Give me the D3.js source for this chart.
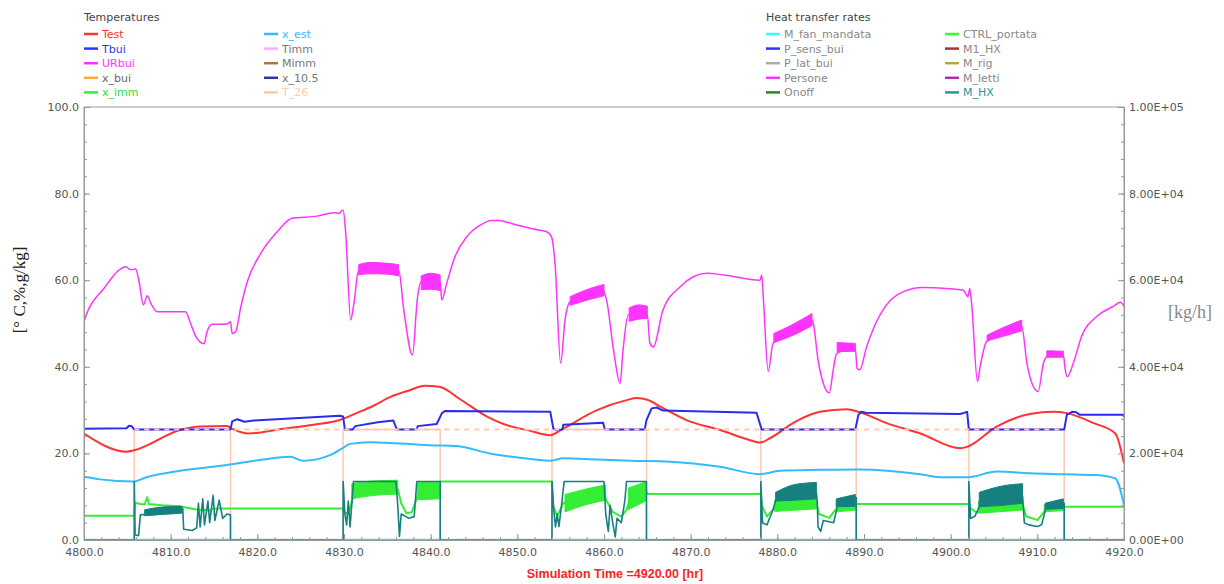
<!DOCTYPE html>
<html><head><meta charset="utf-8">
<script src="https://cdn.jsdelivr.net/npm/d3@7"></script>
<style>body{margin:0;background:#fff} text{font-family:"DejaVu Sans",sans-serif}</style>
</head><body><svg id="c" width="1224" height="584"></svg>
<script>
// ---------- data ----------
const xTicks=[4800,4810,4820,4830,4840,4850,4860,4870,4880,4890,4900,4910,4920];
const yTicks=[0,20,40,60,80,100];
const yRTicks=[0,20000,40000,60000,80000,100000];

const tempNames=["Test","Tbui","URbui","x_bui","x_imm","x_est","Timm","Mimm","x_10.5","T_26"];
const tempColors=["#ff3333","#3333ff","#ff33ff","#ffaa33","#33ee33","#33bbff","#ffaaff","#aa7744","#333399","#ffccaa"];
const tempTextColors=["#ff3333","#3333ff","#ff33ff","#666666","#33dd33","#33bbff","#777777","#777777","#777777","#ffccaa"];
const heatNames=["M_fan_mandata","P_sens_bui","P_lat_bui","Persone","Onoff","CTRL_portata","M1_HX","M_rig","M_letti","M_HX"];
const heatColors=["#33ffff","#3333ff","#aaaaaa","#ff33ff","#228822","#33ff33","#aa3333","#aaaa55","#aa33aa","#229999"];
const heatTextColors=["#888888","#888888","#888888","#888888","#888888","#888888","#888888","#888888","#888888","#229999"];

const Test=[[4800,24.6],[4804.9,20.4],[4805.9,20.8],[4811.1,25.4],[4813.4,26.2],[4816.5,26.3],[4817.0,25.8],[4819.0,24.6],[4822.6,25.6],[4826.5,26.6],[4829.5,27.7],[4831.45,29.3],[4833.4,31.0],[4835.3,33.0],[4837.6,34.6],[4839.3,35.6],[4841.0,35.4],[4843.4,32.5],[4846.5,28.5],[4848.4,26.8],[4851.5,25.2],[4853.8,24.2],[4855.0,25.4],[4859.2,30.0],[4862.6,32.3],[4863.8,32.8],[4865.0,32.4],[4866.5,30.8],[4869.5,27.7],[4873.4,25.4],[4876.8,23.1],[4878.0,22.5],[4879.15,23.5],[4881.8,27.0],[4884.9,29.6],[4888.0,30.2],[4889.35,29.6],[4892.6,27.0],[4896.5,24.6],[4901.1,21.2],[4902.0,21.6],[4905.3,26.2],[4909.15,29.1],[4911.85,29.6],[4913.4,29.3],[4916.5,27.0],[4919.0,24.6],[4920,17.7]];

const Tbui=[[4800,25.7],[4804.9,25.8],[4805.2,26.4],[4805.5,26.3],[4805.8,25.5],[4816.9,25.5],[4817.1,27.4],[4817.7,27.9],[4818.5,27.3],[4819.6,27.6],[4829.5,28.7],[4829.9,28.5],[4830.1,25.5],[4831.0,25.5],[4831.3,26.3],[4833.9,27.2],[4835.7,27.6],[4836.1,25.5],[4838.4,25.5],[4838.5,26.3],[4840.7,26.8],[4841.3,29.3],[4841.65,29.8],[4853.8,29.6],[4854.15,25.8],[4854.5,25.4],[4855.2,25.5],[4855.3,26.6],[4859.9,27.1],[4860.1,25.5],[4864.7,25.5],[4864.9,27.7],[4865.5,30.4],[4866.1,30.6],[4866.8,29.9],[4877.6,29.4],[4878.2,25.5],[4889.0,25.5],[4889.35,28.9],[4889.7,29.6],[4890.2,29.4],[4901.1,29.1],[4901.9,29.6],[4902.1,25.5],[4913.1,25.5],[4913.4,28.9],[4914.0,29.6],[4914.5,29.5],[4914.9,28.9],[4919.9,28.9],[4920,28.5]];

const URbui=[[4800,50.4],[4800.5,53.2],[4801.15,55.4],[4802.3,58.1],[4803,60],[4803.85,62.0],[4804.8,63.1],[4805.4,62.4],[4805.96,62.6],[4806.35,59.7],[4806.85,54.3],[4807.3,56.4],[4807.7,54.7],[4808.46,52.7],[4811.7,52.7],[4812.3,50.0],[4812.9,47.0],[4813.85,45.3],[4814.2,48.1],[4814.8,49.8],[4816.5,49.9],[4816.9,50.4],[4817.1,47.7],[4817.5,48.1],[4818.1,53.9],[4818.85,59.7],[4820.4,66.2],[4822.3,71.2],[4824.0,74.3],[4826.9,74.8],[4828.85,75.6],[4829.4,75.4],[4829.9,76.2],[4830.2,70.8],[4830.77,50.8],[4831.15,54.7],[4831.7,62.4],[4836.3,62.4],[4836.9,53.1],[4837.9,42.7],[4838.45,55.4],[4838.85,59.5],[4841.1,59.5],[4841.27,55.4],[4841.85,59.3],[4842.8,65.4],[4844.15,70.0],[4845.7,72.7],[4847.0,73.8],[4847.8,73.8],[4849.5,73.0],[4851.85,71.8],[4853.4,71.2],[4853.95,70.0],[4854.35,63.9],[4855.0,40.8],[4855.5,50.8],[4856.07,55.0],[4858.4,56.8],[4859.9,57.6],[4860.3,55.4],[4861.1,43.9],[4861.85,36.2],[4862.2,43.9],[4862.8,52.0],[4865.0,52.0],[4865.3,45.4],[4865.7,44.6],[4866.8,53.1],[4868.8,58.5],[4870.3,60.8],[4871.85,61.6],[4873.8,61.2],[4878.0,60.0],[4878.2,61.2],[4878.4,55.4],[4878.95,38.9],[4879.5,45.4],[4881,47.5],[4884.0,50.8],[4884.15,50.0],[4884.7,41.6],[4885.3,36.2],[4886.0,34.0],[4886.45,39.3],[4886.85,43.1],[4889.0,44.3],[4889.2,39.6],[4889.5,39.3],[4890.3,44.6],[4891.1,48.9],[4892.6,54.3],[4894.5,57.3],[4896.8,58.3],[4899.5,58.1],[4901.45,57.7],[4902.0,56.2],[4902.2,58.1],[4902.4,55.0],[4903.1,36.6],[4903.4,40.0],[4904.15,45.8],[4908.2,49.3],[4908.8,40.8],[4909.55,35.4],[4910.1,34.3],[4910.7,40.8],[4911.1,42.3],[4913.0,42.8],[4913.2,39.6],[4913.45,37.7],[4914.15,40.8],[4915.1,47.0],[4916.85,51.6],[4918.8,54.0],[4919.6,54.9],[4920,54.0]];
// noisy envelopes of URbui: [t, low, high]
const URbuiBand=[
 [[4831.7,61.2,63.6],[4833,61.5,64.1],[4835,61.4,63.9],[4836.3,61.0,63.6]],
 [[4838.9,57.8,61.0],[4840,57.9,61.6],[4841.1,57.6,61.2]],
 [[4856.1,54.2,56.2],[4858.4,55.6,58.1],[4860.0,56.4,59.0]],
 [[4862.9,50.5,53.6],[4864,51.0,54.3],[4865.0,51.2,54.0]],
 [[4879.6,45.6,47.7],[4881.5,47.0,49.5],[4884.0,49.5,52.3]],
 [[4886.9,43.5,45.6],[4889.0,43.6,45.4]],
 [[4904.2,46.0,47.3],[4906,47.0,49.0],[4908.2,48.3,50.8]],
 [[4911.1,42.2,43.7],[4913.0,42.2,43.6]]
];

const xEst=[[4800,14.6],[4801.85,14.0],[4805.7,13.5],[4807.2,14.5],[4811.1,16.0],[4816.5,17.3],[4820.7,18.6],[4823.8,19.2],[4825.3,18.3],[4828.4,19.6],[4829.9,21.3],[4830.7,22.2],[4833,22.6],[4839.9,21.9],[4843,21.7],[4846.8,20.0],[4849.9,19.1],[4853.8,18.3],[4855.3,18.9],[4859.2,18.6],[4863,18.3],[4867.6,18.1],[4873.4,16.9],[4878,15.2],[4880.3,16.0],[4884.9,16.2],[4889.5,16.3],[4896.5,15.2],[4898.8,14.5],[4902,14.5],[4905.3,15.8],[4909.15,15.4],[4913,15.2],[4916.85,15.0],[4919,14.2],[4920,8.1]];

const xImm=[[4800,5.6],[4805.8,5.6],[4805.9,8.6],[4806.5,8.3],[4807.0,8.2],[4807.3,9.9],[4807.5,8.3],[4809,8.0],[4811,7.8],[4812.5,7.2],[4813.5,6.9],[4814.5,6.8],[4815,7.3],[4816.9,7.3],[4829.9,7.3],[4830.0,6.5],[4830.5,6.0],[4831,9.5],[4831.5,11],[4836.2,11.8],[4836.6,8.5],[4837.2,6.2],[4837.8,6.4],[4838.3,9],[4838.6,11],[4841.1,11.4],[4841.1,13.5],[4854.0,13.5],[4854.1,8],[4854.6,5.5],[4855.3,8.5],[4856,9.0],[4860,10.8],[4860.3,9],[4861,6.5],[4862,5.4],[4862.6,7],[4863,9.5],[4864.9,11.2],[4864.9,10.6],[4878.1,10.6],[4878.2,8],[4878.8,5.4],[4879.5,7],[4880,8],[4884.5,8.6],[4884.8,6],[4886,5.1],[4886.5,6.5],[4887,7.5],[4889.1,7.9],[4889.1,8.3],[4902.1,8.3],[4902.2,7.5],[4903,6.3],[4904,7.5],[4908.3,8.3],[4908.7,5.5],[4910,4.6],[4910.6,6],[4911,7.2],[4913.1,7.5],[4913.1,7.7],[4920,7.7]];
const xImmBand=[
 [[4830.9,9.5,13.0],[4833,10.2,13.6],[4836.2,10.6,13.8]],
 [[4838.5,9.3,13.2],[4841.0,9.5,13.5]],
 [[4855.5,6.5,10.5],[4858,8.2,11.8],[4860.2,9.2,12.7]],
 [[4862.8,7.0,12.0],[4864.8,9.0,13.4]],
 [[4879.7,6.6,9.2],[4884.5,7.2,10.2]],
 [[4886.8,6.5,8.8],[4889.0,6.9,9.3]],
 [[4903.2,6.2,9.0],[4908.3,6.9,10.0]],
 [[4910.8,6.5,8.2],[4913.0,6.8,8.6]]
];

// M_HX, right axis [kg/h]
const MHX=[[4800,0],[4805.8,0],[4805.8,13500],[4805.9,1200],[4806.3,1000],[4806.5,5800],[4807.5,6000],[4808,6500],[4810,7000],[4811.4,7200],[4811.5,2500],[4812.5,2200],[4813.0,2800],[4813.2,8500],[4813.4,3000],[4813.7,9500],[4813.9,3500],[4814.3,9000],[4814.5,4000],[4814.9,10300],[4815.1,4500],[4815.6,9200],[4816.0,5000],[4816.5,6000],[4816.9,5800],[4816.9,0],
 [4829.9,0],[4829.9,13500],[4830.1,6000],[4830.3,3500],[4830.5,9000],[4830.7,3000],[4831.1,13500],[4836.0,13500],[4836.2,8000],[4836.4,800],[4836.6,6000],[4837.5,5000],[4838.1,5400],[4838.4,13500],[4841.1,13500],[4841.1,0],
 [4854.0,0],[4854.0,13500],[4854.2,7000],[4854.4,3000],[4854.6,6000],[4854.8,3100],[4855.1,8000],[4855.4,13500],[4860.0,13500],[4860.2,6000],[4860.5,2000],[4860.7,8000],[4861,4000],[4861.3,700],[4861.5,5000],[4862,4000],[4862.4,9000],[4862.6,13500],[4864.9,13500],[4864.9,0],
 [4878.1,0],[4878.1,13500],[4878.3,3900],[4878.8,3500],[4879.5,7000],[4880.0,10500],[4884.5,11000],[4884.6,9000],[4884.7,3000],[4885,2000],[4885.3,4500],[4886,4200],[4886.5,4000],[4887,8500],[4889.1,9800],[4889.1,0],
 [4902.1,0],[4902.1,13500],[4902.3,5000],[4902.8,5500],[4903.5,8500],[4908.3,10000],[4908.5,4000],[4909,3500],[4910,3100],[4910.5,3500],[4911,7500],[4913.1,8500],[4913.1,0],[4920,0]];
const MHXBand=[
 [[4807,5600,7000],[4809,5900,7600],[4811.3,6200,7800]],
 [[4879.8,9000,11000],[4882,9200,12800],[4884.5,9500,13300]],
 [[4886.8,7700,9500],[4889.0,7800,10500]],
 [[4903.3,7700,11000],[4906,8000,12500],[4908.3,8500,13000]],
 [[4910.9,7100,8500],[4913.0,7300,9500]]
];

const T26=[[4800,0],[4805.8,0],[4805.8,25.5],[4816.9,25.5],[4816.9,0],[4829.9,0],[4829.9,25.5],[4841.1,25.5],[4841.1,0],[4854.0,0],[4854.0,25.5],[4864.9,25.5],[4864.9,0],[4878.1,0],[4878.1,25.5],[4889.1,25.5],[4889.1,0],[4902.1,0],[4902.1,25.5],[4913.1,25.5],[4913.1,0],[4920,0]];

// ---------- chart ----------
const svg=d3.select("#c");
const x=d3.scaleLinear().domain([4800,4920]).range([84,1124]);
const y=d3.scaleLinear().domain([0,100]).range([540,107]);
const yR=d3.scaleLinear().domain([0,100000]).range([540,107]);

svg.append("defs").append("clipPath").attr("id","plot").append("rect")
  .attr("x",x(4800)).attr("y",y(100)-2).attr("width",x(4920)-x(4800)).attr("height",y(0)-y(100)+3);

const g=svg.append("g").attr("clip-path","url(#plot)");
const line=(ys,c)=>d3.line().x(d=>x(d[0])).y(d=>ys(d[1])).curve(c||d3.curveLinear);
const area=(ys)=>d3.area().x(d=>x(d[0])).y0(d=>ys(d[1])).y1(d=>ys(d[2])).curve(d3.curveMonotoneX);

function path(data,ys,color,w,dash,c){
  const p=g.append("path").datum(data).attr("d",line(ys,c)).attr("fill","none")
   .attr("stroke",color).attr("stroke-width",w).attr("stroke-linejoin","round");
  if(dash) p.attr("stroke-dasharray",dash);
  return p;
}
function bands(list,ys,color){
  list.forEach(b=>g.append("path").datum(b).attr("d",area(ys)).attr("fill",color)
    .attr("stroke",color).attr("stroke-width",1));
}

g.append("line").attr("x1",x(4800)).attr("x2",x(4920)).attr("y1",y(0)-0.5).attr("y2",y(0)-0.5)
  .attr("stroke","#8cc8c8").attr("stroke-width",1.5);
path(T26,y,"#ffc8b0",1.5);
path(xEst,y,"#33bbff",2,null,d3.curveMonotoneX);
bands(xImmBand,y,"#33ee33");
path(xImm,y,"#33ee33",2);
bands(MHXBand,yR,"#168080");
path(MHX.filter(d=>true),yR,"#168080",1.6);
path(Test,y,"#ff3333",2,null,d3.curveMonotoneX);
path(Tbui,y,"#2b2bee",2);
path(T26.filter(d=>d[1]>0),y,"#ffc8b0",2,"5,5");
bands(URbuiBand,y,"#ff33ff");
path(URbui,y,"#ff33ff",1.5,null,d3.curveMonotoneX);

// frame
svg.append("rect").attr("x",x(4800)).attr("y",y(100)).attr("width",x(4920)-x(4800))
  .attr("height",y(0)-y(100)).attr("fill","none").attr("stroke","#999").attr("stroke-width",1);

// axes
const fmt1=d3.format(".1f");
const fmtE=v=>{const s=v.toExponential(2).toUpperCase();const m=s.match(/^(.*)E([+-])(\d+)$/);return m[1]+"E"+m[2]+m[3].padStart(2,"0");};
function styleAxis(sel){
  sel.select(".domain").attr("stroke","#999");
  sel.selectAll(".tick line").attr("stroke","#999");
  sel.selectAll("text").attr("fill","#555").attr("font-size",11).attr("font-family","DejaVu Sans, sans-serif");
}
const minorY=d3.range(0,101,4), minorX=d3.range(4800,4921,2);
svg.append("g").attr("transform",`translate(${x(4800)},0)`)
  .call(d3.axisLeft(y).tickValues(minorY).tickSizeInner(-3).tickSizeOuter(0).tickFormat(""))
  .call(styleAxis);
svg.append("g").attr("transform",`translate(${x(4800)},0)`)
  .call(d3.axisLeft(y).tickValues(yTicks).tickSizeInner(-6).tickSizeOuter(0).tickPadding(5).tickFormat(fmt1))
  .call(styleAxis);
svg.append("g").attr("transform",`translate(${x(4920)},0)`)
  .call(d3.axisRight(yR).tickValues(minorY.map(v=>v*1000)).tickSizeInner(-3).tickSizeOuter(0).tickFormat(""))
  .call(styleAxis);
svg.append("g").attr("transform",`translate(${x(4920)},0)`)
  .call(d3.axisRight(yR).tickValues(yRTicks).tickSizeInner(-6).tickSizeOuter(0).tickPadding(5).tickFormat(fmtE))
  .call(styleAxis);
svg.append("g").attr("transform",`translate(0,${y(0)})`)
  .call(d3.axisBottom(x).tickValues(minorX).tickSizeInner(-3).tickSizeOuter(0).tickFormat(""))
  .call(styleAxis);
svg.append("g").attr("transform",`translate(0,${y(0)})`)
  .call(d3.axisBottom(x).tickValues(xTicks).tickSizeInner(-6).tickSizeOuter(0).tickPadding(8).tickFormat(fmt1))
  .call(styleAxis);

// axis titles
svg.append("text").attr("transform","translate(25,290) rotate(-90)").attr("text-anchor","middle")
  .attr("font-size",17).attr("fill","#222")
  .style("font-family","Liberation Serif, serif").text("[° C,%,g/kg]");
svg.append("text").attr("x",1190).attr("y",318).attr("text-anchor","middle")
  .style("font-family","Liberation Serif, serif").attr("font-size",18).attr("fill","#888").text("[kg/h]");
svg.append("text").attr("x",615).attr("y",578).attr("text-anchor","middle")
  .style("font-family","Liberation Sans, Arial, sans-serif").attr("font-weight","bold").attr("font-size",12.5)
  .attr("fill","#ff2222").text("Simulation Time =4920.00 [hr]");

// legends
function legend(x0,x1,title,names,colors,tcolors){
  svg.append("text").attr("x",x0).attr("y",20.5).attr("font-size",11).attr("fill","#444").text(title);
  names.forEach((n,i)=>{
    const col=i<5?0:1, row=i%5;
    const lx=col?x1:x0, ly=34+row*14.6;
    svg.append("line").attr("x1",lx).attr("x2",lx+14).attr("y1",ly).attr("y2",ly)
      .attr("stroke",colors[i]).attr("stroke-width",2.5);
    svg.append("text").attr("x",lx+18).attr("y",ly+4).attr("font-size",11).attr("fill",tcolors[i]).text(n);
  });
}
legend(84,264,"Temperatures",tempNames,tempColors,tempTextColors);
legend(766,945,"Heat transfer rates",heatNames,heatColors,heatTextColors);
</script></body></html>
